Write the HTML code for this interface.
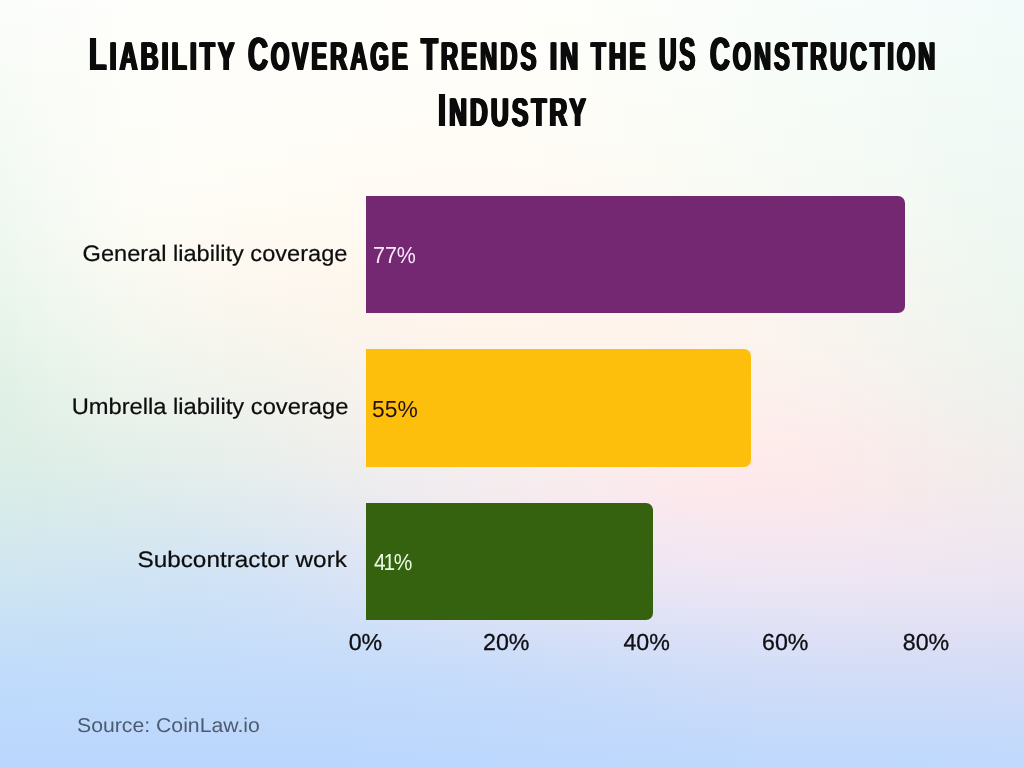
<!DOCTYPE html>
<html lang="en"><head><meta charset="utf-8"><title>Liability Coverage Trends in the US Construction Industry</title>
<style>
html,body{margin:0;padding:0}
body{width:1024px;height:768px;overflow:hidden;position:relative;font-family:"Liberation Sans",sans-serif;background:#fdfdf9}
#bg{position:absolute;left:0;top:0;width:1024px;height:768px}
#bg i{display:block;width:1024px;height:8px}
h1{margin:0;padding:0;font:inherit}
.t{display:block;text-transform:uppercase;position:absolute;white-space:nowrap;font-weight:bold;font-size:40px;line-height:48px;height:48px;color:#0b0b0b;transform-origin:0 0;letter-spacing:0;text-shadow:1.8px 0 0 #0b0b0b,-1.8px 0 0 #0b0b0b,0.9px 0 0 #0b0b0b,-0.9px 0 0 #0b0b0b}
.t b{font-size:46.5px;font-weight:bold}
.bar{position:absolute;left:366px;height:117.4px;border-radius:0 7px 7px 0}
.lab{position:absolute;white-space:nowrap;font-size:22.4px;line-height:26px;color:#0d0d0d;-webkit-text-stroke:0.22px #0d0d0d;transform-origin:100% 50%;text-align:right}
.val{position:absolute;white-space:nowrap;font-size:23.2px;line-height:26px;transform-origin:0 50%}
.ax{position:absolute;white-space:nowrap;font-size:23.2px;letter-spacing:0;line-height:26px;color:#0f0f14;width:80px;text-align:center;top:629.0px;-webkit-text-stroke:0.3px #0f0f14}
#fg{text-rendering:geometricPrecision;position:absolute;left:0;top:0;width:1024px;height:768px;will-change:transform;transform:translateZ(0)}
#src{position:absolute;left:76.6px;top:712.5px;font-size:20px;line-height:26px;color:#4d5b70;white-space:nowrap;transform-origin:0 50%}
</style></head><body>
<div id="bg">
<i style="background:linear-gradient(90deg,#fbfdfb,#fdfefb,#fefefb,#fefefb,#fefefb,#fefefb,#fffefa,#fffefa,#fffefa,#fefefa,#fcfefa,#fbfdfa,#f9fdfa,#f7fdfa,#f6fcfa,#f4fbfa,#f3fbfa)"></i>
<i style="background:linear-gradient(90deg,#fbfdfa,#fcfdfb,#fefefb,#fefefb,#fefefb,#fefefb,#fffefa,#fffefa,#fffefa,#fefefa,#fcfefa,#fbfdfa,#f9fdfa,#f7fcfa,#f6fcfa,#f4fbfa,#f3fbf9)"></i>
<i style="background:linear-gradient(90deg,#fafdfa,#fcfdfa,#fefefb,#fefefb,#fefefb,#fefefa,#fffefa,#fffefa,#fffefa,#fefefa,#fcfdf9,#fafdf9,#f9fdf9,#f7fcf9,#f6fcf9,#f4fbf9,#f3fbf9)"></i>
<i style="background:linear-gradient(90deg,#fafcfa,#fcfdfa,#fefefa,#fefefb,#fefefa,#fefefa,#fffefa,#fffefa,#fffefa,#fefef9,#fcfdf9,#fafdf9,#f9fdf9,#f7fcf9,#f6fcf9,#f4fbf9,#f2fbf9)"></i>
<i style="background:linear-gradient(90deg,#fafcf9,#fcfdfa,#fefefa,#fefefa,#fefefa,#fefefa,#fffefa,#fffefa,#fffef9,#fefef9,#fcfdf9,#fafdf9,#f9fdf9,#f7fcf9,#f5fcf9,#f4fbf9,#f2fbf8)"></i>
<i style="background:linear-gradient(90deg,#f9fcf9,#fcfdf9,#fdfefa,#fefefa,#fefefa,#fefefa,#fffefa,#fffef9,#fffef9,#fefdf9,#fcfdf9,#fafdf9,#f8fdf9,#f7fcf8,#f5fcf8,#f4fbf8,#f2fbf8)"></i>
<i style="background:linear-gradient(90deg,#f9fcf8,#fbfdf9,#fdfdfa,#fefefa,#fefdfa,#fefefa,#fffefa,#fffef9,#fffef9,#fefdf9,#fcfdf9,#fafdf9,#f8fdf8,#f7fcf8,#f5fcf8,#f4fbf8,#f2fbf8)"></i>
<i style="background:linear-gradient(90deg,#f9fcf8,#fbfdf9,#fdfdfa,#fefdfa,#fefdfa,#fefdfa,#fffef9,#fffef9,#fffef9,#fefdf9,#fcfdf9,#fafdf8,#f8fcf8,#f7fcf8,#f5fcf8,#f3fbf8,#f2faf7)"></i>
<i style="background:linear-gradient(90deg,#f8fcf7,#fbfdf9,#fdfdfa,#fefdfa,#fefdfa,#fefdfa,#fffdf9,#fffdf9,#fffdf9,#fefdf9,#fcfdf8,#fafdf8,#f8fcf8,#f7fcf8,#f5fbf7,#f3fbf7,#f2faf7)"></i>
<i style="background:linear-gradient(90deg,#f8fbf7,#fbfcf8,#fdfdf9,#fefdfa,#fefdfa,#fefdf9,#fffdf9,#fffdf9,#fffdf9,#fefdf8,#fcfdf8,#fafdf8,#f8fcf8,#f6fcf7,#f5fbf7,#f3fbf7,#f1faf7)"></i>
<i style="background:linear-gradient(90deg,#f8fbf7,#fbfcf8,#fdfdf9,#fefdfa,#fefdf9,#fefdf9,#fffdf9,#fffdf9,#fffdf8,#fefdf8,#fcfdf8,#fafdf8,#f8fcf7,#f6fcf7,#f5fbf7,#f3fbf7,#f1faf6)"></i>
<i style="background:linear-gradient(90deg,#f7fbf6,#fafcf8,#fdfdf9,#fefdf9,#fefdf9,#fefdf9,#fffdf9,#fffdf8,#fffdf8,#fefdf8,#fcfdf8,#fafcf7,#f8fcf7,#f6fcf7,#f5fbf7,#f3fbf6,#f1faf6)"></i>
<i style="background:linear-gradient(90deg,#f7fbf6,#fafcf8,#fdfdf9,#fefdf9,#fefdf9,#fefdf9,#fffdf8,#fffdf8,#fffdf8,#fefdf8,#fcfdf7,#fafcf7,#f8fcf7,#f6fcf7,#f4fbf6,#f3faf6,#f1faf6)"></i>
<i style="background:linear-gradient(90deg,#f6fbf5,#fafcf7,#fdfdf9,#fefdf9,#fefdf9,#fefdf8,#fffdf8,#fffdf8,#fffdf8,#fefdf7,#fcfcf7,#fafcf7,#f8fcf7,#f6fbf6,#f4fbf6,#f3faf6,#f1faf6)"></i>
<i style="background:linear-gradient(90deg,#f6fbf5,#fafcf7,#fdfdf9,#fefdf9,#fefdf8,#fffdf8,#fffdf8,#fffdf7,#fffdf7,#fefcf7,#fcfcf7,#fafcf7,#f8fcf6,#f6fbf6,#f4fbf6,#f2faf6,#f1faf5)"></i>
<i style="background:linear-gradient(90deg,#f5faf5,#fafcf7,#fdfdf9,#fefdf9,#fefdf8,#fffdf8,#fffdf7,#fffcf7,#fffcf7,#fefcf7,#fcfcf6,#fafcf6,#f8fcf6,#f6fbf6,#f4fbf6,#f2faf5,#f0f9f5)"></i>
<i style="background:linear-gradient(90deg,#f5faf4,#fafcf7,#fdfdf8,#fefdf8,#fefdf8,#fffdf7,#fffcf7,#fffcf7,#fffcf6,#fefcf6,#fcfcf6,#fafcf6,#f8fbf6,#f6fbf6,#f4faf5,#f2faf5,#f0f9f5)"></i>
<i style="background:linear-gradient(90deg,#f4faf4,#f9fcf7,#fdfdf8,#fefdf8,#fefdf7,#fffdf7,#fffcf7,#fffcf6,#fffcf6,#fefcf6,#fcfcf6,#fafcf6,#f8fbf6,#f6fbf6,#f4faf5,#f2faf5,#f0f9f5)"></i>
<i style="background:linear-gradient(90deg,#f4faf4,#f9fbf6,#fdfdf8,#fefdf8,#fefdf7,#fffcf7,#fffcf6,#fffcf6,#fffcf6,#fefbf6,#fcfbf6,#fafbf6,#f8fbf6,#f6fbf5,#f4faf5,#f2faf5,#f0f9f4)"></i>
<i style="background:linear-gradient(90deg,#f3faf4,#f9fbf6,#fdfdf8,#fefdf8,#fefdf7,#fffcf6,#fffcf6,#fffcf5,#fffbf5,#fefbf5,#fcfbf5,#fafbf5,#f8fbf5,#f6fbf5,#f4faf5,#f2f9f4,#f0f9f4)"></i>
<i style="background:linear-gradient(90deg,#f3faf3,#f9fbf6,#fdfcf8,#fefdf7,#fefdf6,#fffcf6,#fffcf5,#fffbf5,#fffbf5,#fefbf5,#fcfbf5,#fafbf5,#f8fbf5,#f6faf5,#f4faf5,#f2f9f4,#f0f9f4)"></i>
<i style="background:linear-gradient(90deg,#f2f9f3,#f8fbf6,#fdfcf8,#fefdf7,#fefcf6,#fffcf5,#fffcf5,#fffbf4,#fffbf4,#fefbf4,#fcfbf4,#fafbf5,#f8fbf5,#f6faf5,#f4faf4,#f1f9f4,#eff8f4)"></i>
<i style="background:linear-gradient(90deg,#f2f9f3,#f8fbf5,#fdfcf7,#fefdf7,#fefcf6,#fffcf5,#fffbf4,#fffbf4,#fffaf4,#fefaf4,#fcfaf4,#fafaf4,#f8faf4,#f6faf4,#f4f9f4,#f1f9f4,#eff8f3)"></i>
<i style="background:linear-gradient(90deg,#f1f9f2,#f8fbf5,#fdfcf7,#fefcf7,#fefcf5,#fffcf5,#fffbf4,#fffbf4,#fffaf3,#fefaf3,#fcfaf4,#fafaf4,#f8faf4,#f6faf4,#f4f9f4,#f1f9f3,#eff8f3)"></i>
<i style="background:linear-gradient(90deg,#f1f9f2,#f7fbf5,#fdfcf7,#fefcf6,#fefcf5,#fefbf4,#fffbf3,#fffaf3,#fffaf3,#fefaf3,#fcfaf3,#fafaf4,#f8faf4,#f6faf4,#f4f9f3,#f1f8f3,#eff8f3)"></i>
<i style="background:linear-gradient(90deg,#f0f9f1,#f7faf4,#fdfcf6,#fefcf6,#fefcf4,#fefbf4,#fffaf3,#fffaf2,#fffaf2,#fef9f2,#fcfaf3,#fafaf3,#f8faf3,#f6f9f3,#f4f9f3,#f1f8f3,#eff8f3)"></i>
<i style="background:linear-gradient(90deg,#f0f8f1,#f7faf4,#fcfcf6,#fefcf5,#fefbf4,#fefbf3,#fffaf2,#fffaf2,#fff9f2,#fef9f2,#fcf9f2,#fbf9f3,#f8f9f3,#f6f9f3,#f4f9f3,#f1f8f3,#eff8f2)"></i>
<i style="background:linear-gradient(90deg,#eff8f1,#f6faf4,#fcfbf6,#fefbf5,#fefbf3,#fefaf3,#fffaf2,#fff9f1,#fff9f1,#fef9f1,#fdf9f2,#fbf9f2,#f9f9f3,#f6f9f3,#f4f8f2,#f1f8f2,#eff7f2)"></i>
<i style="background:linear-gradient(90deg,#eff8f0,#f6faf3,#fbfbf5,#fdfbf4,#fefaf3,#fefaf2,#fff9f1,#fff9f1,#fff9f0,#fef9f0,#fdf9f1,#fbf9f2,#f9f9f2,#f7f8f2,#f4f8f2,#f1f8f2,#eff7f2)"></i>
<i style="background:linear-gradient(90deg,#eef8f0,#f5faf3,#fbfbf4,#fdfbf4,#fefaf2,#fef9f1,#fff9f0,#fff9f0,#fff8f0,#fef8f0,#fdf8f0,#fbf8f1,#f9f8f2,#f7f8f2,#f4f8f2,#f1f8f2,#eef7f2)"></i>
<i style="background:linear-gradient(90deg,#eef8ef,#f5f9f2,#fafbf4,#fdfaf3,#fef9f2,#fef9f1,#fff9f0,#fff8ef,#fff8ef,#fef8ef,#fdf8f0,#fcf8f1,#faf8f1,#f7f8f1,#f4f8f1,#f1f7f1,#eef7f1)"></i>
<i style="background:linear-gradient(90deg,#eef7ef,#f4f9f2,#fafaf3,#fcfaf3,#fdf9f1,#fef9f0,#fff8ef,#fff8ef,#fff8ee,#fef7ef,#fdf8ef,#fcf8f0,#faf8f1,#f7f8f1,#f4f7f1,#f1f7f1,#eef7f1)"></i>
<i style="background:linear-gradient(90deg,#edf7ef,#f4f9f1,#f9faf3,#fcfaf2,#fdf9f1,#fef8f0,#fff8ef,#fff7ee,#fff7ee,#fef7ee,#fdf7ef,#fcf7f0,#faf7f0,#f8f7f1,#f5f7f1,#f1f7f1,#eef7f1)"></i>
<i style="background:linear-gradient(90deg,#edf7ee,#f3f9f1,#f9faf2,#fcf9f2,#fdf8f0,#fef8ef,#fff7ee,#fff7ed,#fff7ed,#fff7ed,#fef7ee,#fcf7ef,#faf7f0,#f8f7f0,#f5f7f0,#f1f7f0,#eef7f1)"></i>
<i style="background:linear-gradient(90deg,#ecf6ee,#f2f8f0,#f8f9f2,#fbf9f1,#fdf8f0,#fef7ef,#fff7ee,#fff7ed,#fff7ed,#fff6ed,#fef6ee,#fdf7ef,#fbf7ef,#f8f7f0,#f5f6f0,#f1f6f0,#eef6f0)"></i>
<i style="background:linear-gradient(90deg,#ebf6ed,#f2f8f0,#f7f9f1,#fbf8f1,#fcf7ef,#fdf7ee,#fef6ed,#fff6ec,#fff6ec,#fff6ed,#fef6ed,#fdf6ee,#fbf6ef,#f8f6f0,#f5f6f0,#f1f6f0,#eef6f0)"></i>
<i style="background:linear-gradient(90deg,#ebf6ed,#f1f8ef,#f7f9f1,#faf8f0,#fcf7ef,#fdf6ee,#fef6ed,#fff6ec,#fff6ec,#fff6ec,#fef6ed,#fdf6ee,#fbf6ef,#f8f6ef,#f5f6ef,#f1f6f0,#eef6f0)"></i>
<i style="background:linear-gradient(90deg,#eaf5ec,#f0f7ef,#f6f8f0,#f9f8f0,#fbf6ee,#fdf6ee,#fef6ed,#fff6ec,#fff6ec,#fff5ec,#fef5ed,#fdf5ee,#fbf5ef,#f9f5ef,#f5f6ef,#f1f6ef,#eef6f0)"></i>
<i style="background:linear-gradient(90deg,#e9f5ec,#f0f7ee,#f5f8f0,#f9f7ef,#faf6ee,#fcf6ed,#fdf5ec,#fff5ec,#fff5ec,#fff5ec,#fef5ed,#fdf5ee,#fbf5ee,#f9f5ef,#f5f5ef,#f1f5ef,#eef5ef)"></i>
<i style="background:linear-gradient(90deg,#e8f5eb,#eff7ee,#f4f8ef,#f8f7ef,#faf6ee,#fbf5ed,#fdf5ec,#fef5ec,#fff5eb,#fff5ec,#fef5ed,#fdf5ee,#fbf5ee,#f9f5ef,#f5f5ef,#f1f5ef,#eef5ef)"></i>
<i style="background:linear-gradient(90deg,#e7f4eb,#eef6ed,#f4f7ef,#f7f7ef,#f9f6ed,#fbf5ed,#fdf5ec,#fef5ec,#fff5eb,#fff4ec,#fef4ed,#fdf4ed,#fcf4ee,#f9f4ee,#f5f4ef,#f1f5ef,#eef5ef)"></i>
<i style="background:linear-gradient(90deg,#e7f4ea,#edf6ed,#f3f7ee,#f6f6ee,#f8f5ed,#faf5ed,#fcf5ec,#fef4ec,#fff4eb,#fff4ec,#fff4ec,#fdf4ed,#fcf4ee,#f9f4ee,#f5f4ee,#f2f4ee,#eef4ef)"></i>
<i style="background:linear-gradient(90deg,#e6f3e9,#ecf5ec,#f2f7ee,#f5f6ee,#f7f5ed,#faf5ec,#fcf4ec,#fef4ec,#fff4eb,#fff4ec,#fff4ec,#fdf4ed,#fcf4ee,#f9f4ee,#f5f4ee,#f2f4ee,#eef4ee)"></i>
<i style="background:linear-gradient(90deg,#e5f3e9,#ebf5ec,#f1f6ee,#f4f6ed,#f6f5ed,#f9f4ec,#fbf4ec,#fef4ec,#fff4ec,#fff3ec,#fff3ec,#fef3ed,#fcf3ee,#f9f3ee,#f5f3ee,#f2f4ee,#eef4ee)"></i>
<i style="background:linear-gradient(90deg,#e4f2e8,#eaf4eb,#f0f6ed,#f3f5ed,#f5f4ec,#f8f4ec,#fbf4ec,#fdf4ec,#fff3ec,#fff3ec,#fff3ed,#fef3ed,#fcf3ed,#f9f3ee,#f5f3ee,#f2f3ee,#eef3ee)"></i>
<i style="background:linear-gradient(90deg,#e3f2e8,#eaf4eb,#eff5ed,#f2f5ed,#f4f4ec,#f7f4ec,#faf3ec,#fdf3ec,#fff3ec,#fff3ec,#fff3ed,#fef2ed,#fcf2ed,#f9f2ee,#f6f3ee,#f2f3ed,#eef3ed)"></i>
<i style="background:linear-gradient(90deg,#e2f2e7,#e9f3ea,#eef5ec,#f1f4ed,#f3f4ec,#f6f3ec,#faf3ec,#fdf3ec,#fef3ec,#fff2ec,#fff2ed,#fef2ed,#fcf2ed,#f9f2ed,#f6f2ed,#f2f2ed,#eef3ed)"></i>
<i style="background:linear-gradient(90deg,#e1f1e7,#e8f3ea,#edf4ec,#f0f4ec,#f2f3ec,#f6f3ec,#f9f3ec,#fcf2ec,#fef2ec,#fff2ec,#fff2ed,#fef1ed,#fcf1ed,#f9f1ed,#f6f2ed,#f2f2ed,#eef2ed)"></i>
<i style="background:linear-gradient(90deg,#e1f1e7,#e7f3ea,#edf4ec,#eff3ec,#f2f3ec,#f5f2ec,#f8f2ec,#fcf2ec,#fef2ec,#fff1ec,#fff1ec,#fef1ed,#fcf1ed,#f9f1ed,#f6f1ed,#f2f1ed,#eef2ed)"></i>
<i style="background:linear-gradient(90deg,#e0f0e7,#e6f2e9,#ecf3ec,#eef3ec,#f1f2ec,#f4f2ec,#f8f2ec,#fbf2ec,#fdf1ec,#fef1ec,#fef1ec,#fef0ed,#fcf0ed,#faf0ed,#f6f1ed,#f2f1ed,#eef1ed)"></i>
<i style="background:linear-gradient(90deg,#dff0e6,#e5f2e9,#ebf3eb,#edf3ec,#f0f2ec,#f3f2ec,#f7f1ec,#fbf1ec,#fdf1ec,#fef0ec,#fef0ec,#fef0ec,#fcefec,#faf0ec,#f6f0ec,#f2f0ed,#eef1ed)"></i>
<i style="background:linear-gradient(90deg,#dff0e6,#e5f1e9,#eaf2eb,#ecf2ec,#eff2ec,#f2f1ec,#f6f1ec,#faf1ec,#fcf0ec,#fef0ec,#feefec,#feefec,#fdefec,#faefec,#f7efec,#f2f0ec,#eff0ec)"></i>
<i style="background:linear-gradient(90deg,#def0e6,#e4f1e9,#e8f2eb,#ebf2eb,#eef1ec,#f2f1ec,#f6f1ec,#f9f0ec,#fcf0ec,#fdefec,#feefec,#feeeec,#fdeeec,#fbeeec,#f7efec,#f3efec,#eff0ec)"></i>
<i style="background:linear-gradient(90deg,#deefe6,#e3f0e8,#e7f1ea,#eaf1eb,#edf1ec,#f1f0ec,#f5f0ec,#f8f0ed,#fbefed,#fdefec,#feeeec,#feeeec,#fdedec,#fbedec,#f7eeec,#f3efec,#efefec)"></i>
<i style="background:linear-gradient(90deg,#ddefe6,#e2f0e8,#e6f0ea,#e9f0eb,#ecf0ec,#f0f0ec,#f4f0ed,#f8efed,#fbefed,#fdeeec,#feedec,#feedec,#feedeb,#fbedeb,#f8edeb,#f3eeec,#efefec)"></i>
<i style="background:linear-gradient(90deg,#ddefe6,#e1efe8,#e5f0ea,#e8f0eb,#ebf0ec,#efefec,#f3efed,#f7efed,#faeeed,#fceeed,#feedec,#feeceb,#feeceb,#fceceb,#f8edeb,#f4eeec,#f0eeec)"></i>
<i style="background:linear-gradient(90deg,#dceee6,#e0efe8,#e4efea,#e7efeb,#eaefec,#eeefed,#f2efed,#f6eeed,#f9eeed,#fbeded,#fdecec,#feebeb,#feebeb,#fcebeb,#f8eceb,#f4edeb,#f0eeec)"></i>
<i style="background:linear-gradient(90deg,#dceee6,#dfeee8,#e3efea,#e6efeb,#e9efec,#edeeed,#f1eeed,#f5eeed,#f8eded,#fbeded,#fdecec,#feebeb,#feeaeb,#fcebeb,#f8eceb,#f4eceb,#f0edec)"></i>
<i style="background:linear-gradient(90deg,#dbeee7,#deeee8,#e2eeea,#e5eeeb,#e8eeed,#eceeed,#f0eeed,#f4edee,#f7edee,#faeced,#fcebec,#feeaeb,#feeaeb,#fceaeb,#f8ebeb,#f4eceb,#f0edec)"></i>
<i style="background:linear-gradient(90deg,#daede7,#ddede8,#e1edea,#e3edec,#e7eded,#ebeded,#efedee,#f3edee,#f6ecee,#f9eced,#fceaec,#fdeaeb,#fde9eb,#fbeaeb,#f8eaeb,#f4ebec,#f0ecec)"></i>
<i style="background:linear-gradient(90deg,#daede7,#dcede9,#dfedea,#e2edec,#e5eded,#e9edee,#eeecee,#f2ecee,#f6ecee,#f8ebee,#fbeaed,#fde9ec,#fde9eb,#fbe9eb,#f8eaeb,#f4ebec,#f0ecec)"></i>
<i style="background:linear-gradient(90deg,#d9ece8,#dbece9,#deeceb,#e1ecec,#e4ecee,#e8ecee,#edecef,#f1ecef,#f5ebef,#f8ebee,#faeaed,#fce9ec,#fce8ec,#fae9eb,#f7e9ec,#f3eaec,#f0ebec)"></i>
<i style="background:linear-gradient(90deg,#d8ece8,#daebea,#ddebeb,#dfebed,#e2ebee,#e7ebef,#ebebef,#f0ebef,#f4ebef,#f7eaee,#f9e9ee,#fbe8ed,#fbe8ec,#fae8ec,#f7e9ec,#f3eaec,#f0ebed)"></i>
<i style="background:linear-gradient(90deg,#d7ebe9,#d9ebea,#dbeaec,#deeaee,#e1eaef,#e5eaef,#eaeaf0,#efeaf0,#f3eaef,#f6eaef,#f8e9ee,#fae8ed,#fae8ed,#f9e8ed,#f6e9ed,#f3e9ed,#f0eaed)"></i>
<i style="background:linear-gradient(90deg,#d6ebea,#d8eaeb,#daeaed,#dce9ee,#dfe9f0,#e4e9f0,#e9eaf0,#eeeaf0,#f2eaf0,#f5e9f0,#f7e9ef,#f9e8ee,#f9e8ed,#f8e8ed,#f5e8ed,#f2e9ed,#f0eaed)"></i>
<i style="background:linear-gradient(90deg,#d5eaea,#d7eaec,#d9e9ed,#dbe9ef,#dee9f0,#e2e9f1,#e7e9f1,#ece9f1,#f0e9f1,#f3e9f0,#f6e8ef,#f7e8ef,#f8e8ee,#f7e8ee,#f5e8ee,#f2e9ee,#f0e9ee)"></i>
<i style="background:linear-gradient(90deg,#d4eaeb,#d6e9ed,#d7e8ee,#d9e8f0,#dce8f1,#e0e8f1,#e6e8f1,#ebe8f1,#efe8f1,#f2e8f1,#f5e8f0,#f6e8ef,#f7e7ef,#f6e8ef,#f4e8ef,#f2e8ef,#efe8ee)"></i>
<i style="background:linear-gradient(90deg,#d4e9ec,#d5e8ee,#d6e7ef,#d7e7f1,#dae7f2,#dfe7f2,#e4e7f2,#eae8f2,#eee8f2,#f1e8f1,#f3e8f1,#f5e7f0,#f5e7f0,#f5e7f0,#f3e8ef,#f1e8ef,#efe8ef)"></i>
<i style="background:linear-gradient(90deg,#d3e8ed,#d3e7ef,#d5e7f0,#d6e6f2,#d8e6f3,#dde6f3,#e3e6f3,#e8e7f2,#ede7f2,#f0e7f2,#f2e7f1,#f3e7f1,#f4e7f1,#f3e7f0,#f2e7f0,#f0e7f0,#efe7ef)"></i>
<i style="background:linear-gradient(90deg,#d2e8ee,#d2e7f0,#d3e6f1,#d4e5f3,#d7e5f3,#dce5f4,#e1e6f3,#e7e6f3,#ebe7f3,#eee7f2,#f0e7f2,#f2e7f2,#f2e7f1,#f2e7f1,#f1e7f1,#efe7f0,#eee7f0)"></i>
<i style="background:linear-gradient(90deg,#d1e7ef,#d1e6f0,#d2e5f2,#d3e4f3,#d5e4f4,#dae4f4,#e0e5f4,#e5e6f4,#eae6f3,#ede6f3,#efe6f3,#f0e7f2,#f1e7f2,#f0e7f2,#f0e6f1,#eee6f1,#ede6f0)"></i>
<i style="background:linear-gradient(90deg,#d0e6f0,#d0e5f1,#d1e4f3,#d1e4f4,#d4e3f5,#d8e4f5,#dee4f4,#e4e5f4,#e8e5f4,#ebe6f4,#ede6f3,#eee6f3,#efe6f3,#efe6f2,#eee6f2,#ede6f1,#ede5f1)"></i>
<i style="background:linear-gradient(90deg,#cee6f0,#cfe5f2,#cfe4f3,#d0e3f5,#d2e3f5,#d7e3f5,#dce4f5,#e2e4f5,#e6e5f4,#e9e5f4,#ebe5f4,#ece6f4,#ede6f3,#ede6f3,#ede5f2,#ece5f2,#ebe5f1)"></i>
<i style="background:linear-gradient(90deg,#cde5f1,#cee4f3,#cee3f4,#cfe2f5,#d1e2f6,#d5e2f6,#dbe3f5,#e0e3f5,#e4e4f5,#e7e4f4,#e9e5f4,#eae5f4,#ebe5f4,#ebe5f3,#ebe5f3,#ebe4f2,#eae4f2)"></i>
<i style="background:linear-gradient(90deg,#cce4f2,#cce3f3,#cde2f5,#cee2f6,#d0e1f6,#d4e2f6,#d9e2f6,#dde3f5,#e1e3f5,#e4e4f5,#e6e4f5,#e8e4f4,#e9e4f4,#e9e4f4,#e9e4f3,#e9e4f3,#e8e3f2)"></i>
<i style="background:linear-gradient(90deg,#cbe3f3,#cbe2f4,#cce2f5,#cce1f6,#cee1f7,#d2e1f7,#d7e1f6,#dbe2f6,#dfe2f6,#e2e3f5,#e4e3f5,#e6e4f5,#e7e4f4,#e7e4f4,#e7e3f3,#e7e3f3,#e7e2f2)"></i>
<i style="background:linear-gradient(90deg,#cae2f4,#cae2f5,#cae1f6,#cbe0f7,#cde0f7,#d0e0f7,#d4e1f7,#d9e1f6,#dce2f6,#dfe2f6,#e1e2f5,#e3e3f5,#e4e3f5,#e5e3f4,#e5e2f4,#e5e2f3,#e5e2f3)"></i>
<i style="background:linear-gradient(90deg,#c8e1f5,#c9e1f6,#c9e0f7,#cae0f7,#cce0f8,#cfe0f7,#d2e0f7,#d6e0f7,#d9e1f6,#dce1f6,#dfe2f6,#e1e2f5,#e2e2f5,#e3e2f5,#e3e2f4,#e3e1f4,#e3e1f3)"></i>
<i style="background:linear-gradient(90deg,#c7e0f6,#c7e0f7,#c8dff7,#c9dff8,#cadff8,#cddff8,#d0dff8,#d4e0f7,#d6e0f7,#d9e0f6,#dce1f6,#dee1f6,#e0e1f5,#e0e1f5,#e1e1f4,#e1e0f4,#e1e0f4)"></i>
<i style="background:linear-gradient(90deg,#c6e0f7,#c6dff7,#c7dff8,#c8dff8,#c9def8,#cbdff8,#cedff8,#d1dff8,#d4dff7,#d6dff7,#d9e0f6,#dbe0f6,#dde0f6,#dee0f5,#dee0f5,#dedff4,#dedff4)"></i>
<i style="background:linear-gradient(90deg,#c5dff8,#c5def8,#c6def8,#c6def9,#c8def9,#cadef9,#ccdef8,#cfdef8,#d1def8,#d4dff7,#d6dff7,#d9dff6,#dbe0f6,#dcdff6,#dcdff5,#dcdff5,#dcdef4)"></i>
<i style="background:linear-gradient(90deg,#c4def8,#c4def9,#c4def9,#c5ddf9,#c7ddf9,#c8ddf9,#caddf9,#ccdef8,#cedef8,#d1def8,#d4def7,#d6dff7,#d8dff6,#d9dff6,#dadef5,#dadef5,#dadef5)"></i>
<i style="background:linear-gradient(90deg,#c2ddf9,#c3ddf9,#c3ddf9,#c4ddf9,#c6ddf9,#c7ddf9,#c9ddf9,#caddf9,#ccddf8,#cfddf8,#d1def7,#d4def7,#d6def6,#d7def6,#d8def6,#d8ddf6,#d8ddf5)"></i>
<i style="background:linear-gradient(90deg,#c1dcfa,#c2dcfa,#c2dcfa,#c3dcfa,#c5dcfa,#c6dcfa,#c7dcf9,#c8dcf9,#cadcf9,#ccddf8,#cfddf8,#d2ddf7,#d4ddf7,#d5ddf6,#d5ddf6,#d6ddf6,#d6dcf6)"></i>
<i style="background:linear-gradient(90deg,#c1dcfa,#c1dcfa,#c2dcfa,#c2dcfa,#c3dcfa,#c4dcfa,#c5dcfa,#c7dcfa,#c8dcf9,#cadcf9,#cddcf8,#d0ddf8,#d2ddf7,#d3ddf7,#d4dcf7,#d4dcf6,#d4dcf6)"></i>
<i style="background:linear-gradient(90deg,#c0dbfb,#c0dbfb,#c1dbfb,#c2dbfb,#c3dbfa,#c3dbfa,#c4dbfa,#c5dbfa,#c7dbfa,#c9dbf9,#cbdcf9,#cedcf8,#d0dcf8,#d1dcf7,#d2dcf7,#d2dcf7,#d2dbf7)"></i>
<i style="background:linear-gradient(90deg,#bfdafb,#bfdbfb,#c0dbfb,#c1dbfb,#c2dbfb,#c2dbfb,#c3dbfa,#c4dbfa,#c5dbfa,#c7dbf9,#cadbf9,#ccdcf8,#cedcf8,#cfdcf8,#d0dbf8,#d0dbf7,#d0dbf7)"></i>
<i style="background:linear-gradient(90deg,#bedafb,#bfdafb,#bfdafb,#c0dafb,#c1dafb,#c1dafb,#c2dafb,#c3dafb,#c4dafa,#c6dafa,#c8dbf9,#cbdbf9,#ccdbf8,#cddbf8,#cedbf8,#cedbf8,#cfdbf8)"></i>
<i style="background:linear-gradient(90deg,#bed9fc,#bedafc,#bfdafb,#bfdafb,#c0dafb,#c1dafb,#c1dafb,#c2dafb,#c3dafb,#c5dafa,#c7dafa,#c9dbf9,#cbdbf9,#ccdbf9,#ccdbf8,#ccdbf8,#cddaf8)"></i>
<i style="background:linear-gradient(90deg,#bdd9fc,#bed9fc,#bed9fc,#bed9fc,#bfd9fc,#c0d9fb,#c0d9fb,#c1d9fb,#c2d9fb,#c3dafb,#c5dafa,#c7dafa,#c9daf9,#cadaf9,#cadaf9,#cbdaf9,#cbdaf9)"></i>
<i style="background:linear-gradient(90deg,#bdd9fc,#bdd9fc,#bdd9fc,#bed9fc,#bed9fc,#bfd9fc,#bfd9fc,#c0d9fb,#c1d9fb,#c2d9fb,#c4dafa,#c6dafa,#c7dafa,#c8daf9,#c8daf9,#c9daf9,#c9daf9)"></i>
<i style="background:linear-gradient(90deg,#bcd8fc,#bdd8fc,#bdd8fc,#bdd8fc,#bed8fc,#bed8fc,#bfd8fc,#bfd9fc,#c0d9fc,#c1d9fb,#c3d9fb,#c4d9fa,#c6dafa,#c6dafa,#c7dafa,#c7dafa,#c7dafa)"></i>
<i style="background:linear-gradient(90deg,#bcd8fc,#bcd8fc,#bcd8fc,#bcd8fc,#bdd8fc,#bdd8fc,#bed8fc,#bed8fc,#bfd8fc,#c0d9fc,#c2d9fb,#c3d9fb,#c4d9fb,#c5d9fa,#c5dafa,#c5dafa,#c5dafa)"></i>
<i style="background:linear-gradient(90deg,#bbd7fc,#bbd7fc,#bcd7fc,#bcd7fc,#bcd7fc,#bcd7fc,#bdd8fc,#bed8fc,#bed8fc,#bfd8fc,#c0d8fc,#c1d9fb,#c2d9fb,#c3d9fb,#c3d9fb,#c3d9fb,#c4dafb)"></i>
<i style="background:linear-gradient(90deg,#bbd7fd,#bbd7fd,#bbd7fd,#bbd7fd,#bbd7fd,#bcd7fd,#bcd7fd,#bdd7fd,#bed8fd,#bed8fc,#bfd8fc,#c0d8fc,#c1d9fb,#c1d9fb,#c1d9fb,#c1d9fb,#c2d9fb)"></i>
<i style="background:linear-gradient(90deg,#bad6fd,#bad6fd,#bad6fd,#bad6fd,#bad6fd,#bbd6fd,#bbd7fd,#bcd7fd,#bdd7fd,#bdd7fd,#bed8fc,#bed8fc,#bfd8fc,#bfd8fc,#bfd9fc,#c0d9fc,#c0d9fc)"></i>
</div>
<div id="fg">

<h1>
<span class="t" id="t0" style="left:88.66px;top:29.90px;letter-spacing:5.00px;transform:scaleX(0.6189)"><b>L</b>iability</span>
<span class="t" id="t1" style="left:247.66px;top:29.90px;letter-spacing:5.00px;transform:scaleX(0.5944)"><b>C</b>overage</span>
<span class="t" id="t2" style="left:421.20px;top:29.90px;letter-spacing:5.00px;transform:scaleX(0.5965)"><b>T</b>rends</span>
<span class="t" id="t3" style="left:550.14px;top:32.90px;letter-spacing:5.00px;transform:scaleX(0.6263)">in</span>
<span class="t" id="t4" style="left:591.25px;top:32.90px;letter-spacing:5.00px;transform:scaleX(0.6050)">the</span>
<span class="t" id="t5" style="left:659.04px;top:29.90px;letter-spacing:5.00px;transform:scaleX(0.5228)"><b>US</b></span>
<span class="t" id="t6" style="left:710.09px;top:29.90px;letter-spacing:5.00px;transform:scaleX(0.5895)"><b>C</b>onstruction</span>
<span class="t" id="t7" style="left:437.75px;top:85.90px;letter-spacing:5.00px;transform:scaleX(0.6169)"><b>I</b>ndustry</span>
</h1>
<div class="bar" style="top:196.0px;width:539.3px;background:#742872"></div>
<div class="bar" style="top:349.3px;width:385.0px;background:#febf0c"></div>
<div class="bar" style="top:502.5px;width:287.0px;background:#34620f"></div>
<div class="lab" id="l0" style="right:676.40px;top:240.85px;transform:scaleX(1.0535)">General liability coverage</div>
<div class="lab" id="l1" style="right:676.00px;top:393.6px;transform:scaleX(1.0588)">Umbrella liability coverage</div>
<div class="lab" id="l2" style="right:676.70px;top:546.6px;transform:scaleX(1.0858)">Subcontractor work</div>
<div class="val" id="v0" style="left:372.6px;top:241.7px;color:#fbe9fb;transform:scaleX(0.9250)">77%</div>
<div class="val" id="v1" style="left:372.0px;top:395.8px;color:#22130a;transform:scaleX(0.9850)">55%</div>
<div class="val" id="v2" style="left:374.4px;top:548.7px;color:#ecfbe2;transform:scaleX(0.9010)">4<span style="margin:0 -1.6px 0 -2.4px">1</span>%</div>
<div class="ax" id="a0" style="left:325.4px">0%</div>
<div class="ax" id="a1" style="left:466.3px">20%</div>
<div class="ax" id="a2" style="left:606.6px">40%</div>
<div class="ax" id="a3" style="left:745.3px">60%</div>
<div class="ax" id="a4" style="left:886.0px">80%</div>
<div id="src" style="transform:scaleX(1.061)">Source: CoinLaw.io</div>
</div>
</body></html>
